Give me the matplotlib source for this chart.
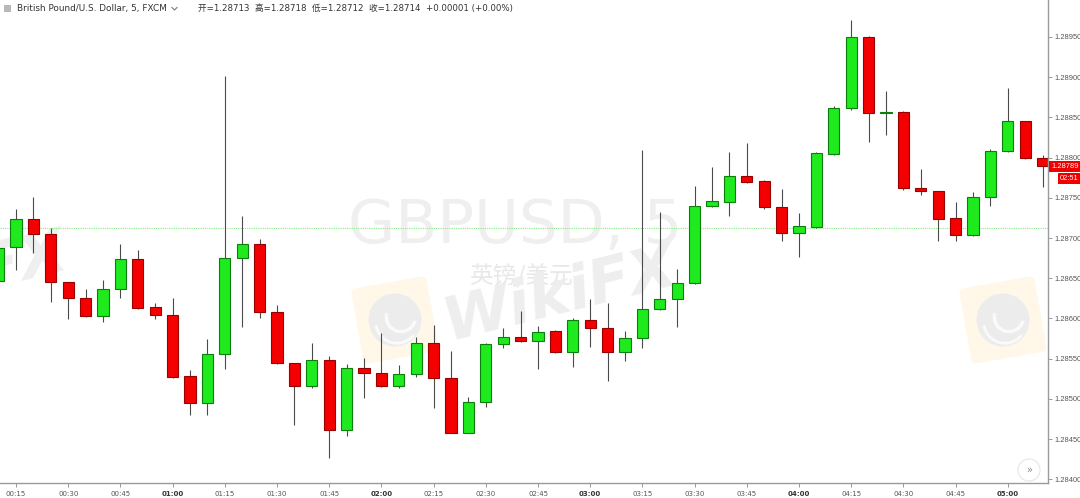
import matplotlib
matplotlib.use("Agg")
import matplotlib.pyplot as plt
from matplotlib.patches import Rectangle, Ellipse, Polygon, Arc
from matplotlib.lines import Line2D
import numpy as np

plt.rcParams['font.family'] = ['DejaVu Sans', 'Noto Sans CJK SC']

# ---------------- data ----------------
times = ['00:10', '00:15', '00:20', '00:25', '00:30', '00:35', '00:40', '00:45', '00:50', '00:55',
         '01:00', '01:05', '01:10', '01:15', '01:20', '01:25', '01:30', '01:35', '01:40', '01:45',
         '01:50', '01:55', '02:00', '02:05', '02:10', '02:15', '02:20', '02:25', '02:30', '02:35',
         '02:40', '02:45', '02:50', '02:55', '03:00', '03:05', '03:10', '03:15', '03:20', '03:25',
         '03:30', '03:35', '03:40', '03:45', '03:50', '03:55', '04:00', '04:05', '04:10', '04:15',
         '04:20', '04:25', '04:30', '04:35', '04:40', '04:45', '04:50', '04:55', '05:00', '05:05',
         '05:10']
opens = [1.28646, 1.28689, 1.28724, 1.28705, 1.28645, 1.28625, 1.28603, 1.28636, 1.28674, 1.28614,
         1.28604, 1.28528, 1.28495, 1.28556, 1.28675, 1.28692, 1.28608, 1.28544, 1.28516, 1.28548,
         1.28461, 1.28538, 1.28532, 1.28516, 1.28531, 1.28570, 1.28526, 1.28458, 1.28496, 1.28568,
         1.28577, 1.28572, 1.28584, 1.28558, 1.28598, 1.28588, 1.28558, 1.28576, 1.28612, 1.28624,
         1.28644, 1.28740, 1.28745, 1.28777, 1.28771, 1.28738, 1.28706, 1.28714, 1.28804, 1.28862,
         1.28950, 1.28855, 1.28857, 1.28762, 1.28758, 1.28725, 1.28704, 1.28751, 1.28808, 1.28845,
         1.28799]
highs = [1.28690, 1.28736, 1.28751, 1.28712, 1.28645, 1.28637, 1.28648, 1.28692, 1.28685, 1.28619,
         1.28626, 1.28536, 1.28574, 1.28901, 1.28727, 1.28699, 1.28617, 1.28545, 1.28570, 1.28553,
         1.28543, 1.28551, 1.28582, 1.28542, 1.28577, 1.28592, 1.28559, 1.28502, 1.28569, 1.28588,
         1.28609, 1.28590, 1.28585, 1.28600, 1.28624, 1.28619, 1.28584, 1.28809, 1.28732, 1.28661,
         1.28765, 1.28788, 1.28807, 1.28818, 1.28772, 1.28761, 1.28731, 1.28807, 1.28864, 1.28971,
         1.28951, 1.28883, 1.28858, 1.28786, 1.28759, 1.28745, 1.28757, 1.28811, 1.28887, 1.28846,
         1.28803]
lows = [1.28640, 1.28660, 1.28681, 1.28620, 1.28599, 1.28602, 1.28595, 1.28626, 1.28612, 1.28599,
        1.28526, 1.28480, 1.28480, 1.28537, 1.28589, 1.28600, 1.28543, 1.28468, 1.28514, 1.28426,
        1.28454, 1.28501, 1.28515, 1.28514, 1.28527, 1.28488, 1.28457, 1.28457, 1.28490, 1.28563,
        1.28571, 1.28537, 1.28557, 1.28539, 1.28565, 1.28522, 1.28547, 1.28563, 1.28611, 1.28589,
        1.28643, 1.28739, 1.28727, 1.28769, 1.28736, 1.28696, 1.28676, 1.28713, 1.28803, 1.28859,
        1.28819, 1.28828, 1.28760, 1.28753, 1.28696, 1.28696, 1.28703, 1.28740, 1.28807, 1.28798,
        1.28763]
closes = [1.28687, 1.28724, 1.28705, 1.28645, 1.28625, 1.28603, 1.28636, 1.28674, 1.28613, 1.28604,
          1.28527, 1.28495, 1.28556, 1.28675, 1.28692, 1.28608, 1.28544, 1.28516, 1.28548, 1.28461,
          1.28538, 1.28532, 1.28516, 1.28531, 1.28570, 1.28526, 1.28458, 1.28496, 1.28568, 1.28577,
          1.28572, 1.28583, 1.28558, 1.28598, 1.28588, 1.28558, 1.28576, 1.28612, 1.28624, 1.28644,
          1.28740, 1.28746, 1.28777, 1.28770, 1.28738, 1.28706, 1.28715, 1.28806, 1.28862, 1.28950,
          1.28855, 1.28857, 1.28762, 1.28758, 1.28724, 1.28704, 1.28751, 1.28808, 1.28845, 1.28799,
          1.28789]
ref_level = 1.28713
tick_times = ['00:15', '00:30', '00:45', '01:00', '01:15', '01:30', '01:45', '02:00', '02:15', '02:30',
              '02:45', '03:00', '03:15', '03:30', '03:45', '04:00', '04:15', '04:30', '04:45', '05:00']
price_ticks = [1.28400, 1.28450, 1.28500, 1.28550, 1.28600, 1.28650, 1.28700, 1.28750,
               1.28800, 1.28850, 1.28900, 1.28950]
header_left = 'British Pound/U.S. Dollar, 5, FXCM'
header_right = '开=1.28713  高=1.28718  低=1.28712  收=1.28714  +0.00001 (+0.00%)'
countdown = '02:51'

# ---------------- figure ----------------
W, H = 1080, 498
fig = plt.figure(figsize=(W / 100, H / 100), dpi=100, facecolor='white')


def fx(px):
    return px / W


def fy(py):
    return 1 - py / H


ax = fig.add_axes([0, fy(483), fx(1048), 483 / H])
ax.set_facecolor('white')

x = np.arange(len(times))
o = np.array(opens)
h = np.array(highs)
l = np.array(lows)
c = np.array(closes)
up = c >= o

GREEN, GREEN_E = '#1EEA1E', '#0B7F0B'
RED, RED_E = '#F50000', '#990000'

# ---------------- watermarks ----------------
wm = dict(transform=fig.transFigure, zorder=0.2, clip_on=True)
ax.text(fx(515), fy(226), 'GBPUSD, 5', fontsize=44, color='#EFEFEF', ha='center', va='center', **wm)
ax.text(fx(521), fy(276), '英镑/美元', fontsize=17, color='#E8E8E8', ha='center', va='center',
        family=['Noto Sans CJK SC', 'DejaVu Sans'], **wm)
ax.text(fx(560), fy(295), 'WikiFX', fontsize=44, color='#EEEEEE', ha='center', va='center',
        fontweight='bold', fontstyle='italic', rotation=14, **wm)
ax.text(fx(-50), fy(280), 'WikiFX', fontsize=44, color='#EFEFEF', ha='center', va='center',
        fontweight='bold', fontstyle='italic', rotation=14, **wm)


def logo(cx, cy, s):
    ang = np.deg2rad(-10)
    pts = []
    for dx, dy in [(-s, -s), (s, -s), (s, s), (-s, s)]:
        rx = dx * np.cos(ang) - dy * np.sin(ang)
        ry = dx * np.sin(ang) + dy * np.cos(ang)
        pts.append((fx(cx + rx), fy(cy + ry)))
    ax.add_patch(Polygon(pts, closed=True, transform=fig.transFigure, facecolor='#FFF8E8',
                         edgecolor='#FFF8E8', lw=6, joinstyle='round', zorder=0.1, clip_on=True))
    r = s * 0.78
    ax.add_patch(Ellipse((fx(cx), fy(cy)), 2 * r / W, 2 * r / H, transform=fig.transFigure,
                         facecolor='#ECECEC', edgecolor='none', zorder=0.15, clip_on=True))
    ax.add_patch(Arc((fx(cx + 6), fy(cy - 3)), 1.1 * r / W, 1.1 * r / H, theta1=150, theta2=330,
                     transform=fig.transFigure, color='#FAFAFA', lw=2.5, zorder=0.16))
    ax.add_patch(Arc((fx(cx + 2), fy(cy + 2)), 1.6 * r / W, 1.6 * r / H, theta1=200, theta2=300,
                     transform=fig.transFigure, color='#FAFAFA', lw=2, zorder=0.16))


logo(395, 320, 34)
logo(1003, 320, 34)

# reference line
ax.axhline(ref_level, color='#8EE88E', lw=0.8, ls=(0, (1, 1)), zorder=0.5)

# ---------------- candles ----------------
ax.vlines(x, l, h, color='#4A4A4A', lw=0.8, zorder=1)
body_bottom = np.minimum(o, c)
body_h = np.maximum(np.abs(c - o), 0.000012)
ax.bar(x[up], body_h[up], bottom=body_bottom[up], width=0.64, color=GREEN, edgecolor=GREEN_E,
       linewidth=0.8, zorder=2)
ax.bar(x[~up], body_h[~up], bottom=body_bottom[~up], width=0.64, color=RED, edgecolor=RED_E,
       linewidth=0.8, zorder=2)

ax.set_xlim(0.08, 60.31)
ax.set_ylim(1.283953, 1.289960)

for s in ['top', 'left']:
    ax.spines[s].set_visible(False)
for s in ['right', 'bottom']:
    ax.spines[s].set_color('#9A9A9A')
    ax.spines[s].set_linewidth(1.0)

ax.yaxis.tick_right()
ax.set_yticks(price_ticks)
ax.set_yticklabels(['%.5f' % p for p in price_ticks], family='Liberation Sans')
ax.tick_params(axis='y', direction='out', length=3, width=0.7, colors='#9A9A9A', labelcolor='#555555',
               labelsize=5.4, pad=1.5)
tick_pos = [times.index(t) for t in tick_times]
ax.set_xticks(tick_pos)
ax.set_xticklabels(tick_times)
ax.tick_params(axis='x', direction='out', length=3, width=0.7, colors='#9A9A9A', labelcolor='#555555',
               labelsize=5.0, pad=2.5)
for lab in ax.get_xticklabels():
    if lab.get_text().endswith(':00'):
        lab.set_fontweight('bold')
        lab.set_color('#333333')

# ---------------- last price label ----------------
last = closes[-1]
ypx = ax.transData.transform((0, last))[1]
fig.patches.append(Rectangle((fx(1049), (ypx - 5.5) / H), fx(31), 11 / H, transform=fig.transFigure,
                             facecolor='#F20000', edgecolor='none', zorder=2))
fig.patches.append(Rectangle((fx(1058), (ypx - 17.5) / H), fx(22), 11 / H, transform=fig.transFigure,
                             facecolor='#F20000', edgecolor='none', zorder=2))
fig.text(fx(1065), ypx / H, '%.5f' % last, fontsize=5.4, color='white', ha='center', va='center',
         family='Liberation Sans', zorder=5)
fig.text(fx(1069), (ypx - 12) / H, countdown, fontsize=5.4, color='white', ha='center', va='center',
         family='Liberation Sans', zorder=5)

# ---------------- header ----------------
fig.patches.append(Rectangle((fx(4), fy(12)), fx(7), 7 / H, transform=fig.transFigure,
                             facecolor='#B8B8B8', edgecolor='none'))
fig.text(fx(17), fy(8.5), header_left, fontsize=6.4, color='#333333', ha='left', va='center')
fig.lines.append(Line2D([fx(172), fx(174.5), fx(177)], [fy(7.5), fy(10), fy(7.5)],
                        transform=fig.transFigure, color='#777777', lw=0.8))
fig.text(fx(198), fy(8.5), header_right, fontsize=6.2, color='#333333', ha='left', va='center')

# ---------------- scroll button ----------------
ax.add_patch(Ellipse((fx(1029), fy(470)), 22 / W, 22 / H, transform=fig.transFigure, facecolor='white',
                     edgecolor='#E6E6E6', lw=0.8, zorder=3, clip_on=False))
ax.text(fx(1029), fy(470), '»', transform=fig.transFigure, fontsize=7, color='#888888', ha='center',
        va='center', zorder=4)

fig.savefig('out.png', dpi=100, facecolor='white')
